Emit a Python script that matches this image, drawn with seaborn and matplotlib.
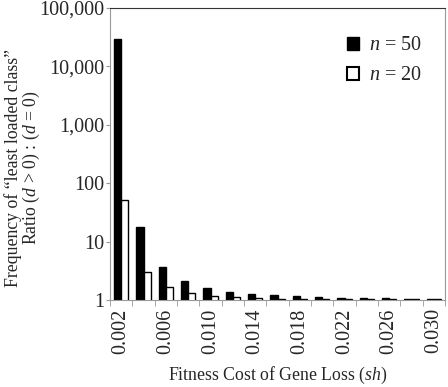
import numpy as np
import pandas as pd
import seaborn as sns
import matplotlib.pyplot as plt
from matplotlib.patches import Patch

# fitness cost categories (sh)
costs = ['0.002', '0.004', '0.006', '0.008', '0.010', '0.012', '0.014', '0.016',
         '0.018', '0.020', '0.022', '0.024', '0.026', '0.028', '0.030']
ratio_n50 = [29000, 18, 3.7, 2.1, 1.6, 1.37, 1.27, 1.2, 1.15, 1.12, 1.1, 1.08, 1.07, 1.06, 1.05]
ratio_n20 = [52, 3.0, 1.65, 1.32, 1.17, 1.12, 1.08, 1.06, 1.05, 1.04, 1.03, 1.03, 1.02, 1.02, 1.02]

df = pd.DataFrame({
    'cost': costs * 2,
    'ratio': ratio_n50 + ratio_n20,
    'n': ['n50'] * len(costs) + ['n20'] * len(costs),
})

sns.set_style('white')
plt.rcParams['font.family'] = ['Liberation Serif', 'DejaVu Serif']
plt.rcParams['mathtext.fontset'] = 'custom'
plt.rcParams['mathtext.it'] = 'Liberation Serif:italic'
plt.rcParams['mathtext.rm'] = 'Liberation Serif'

fig = plt.figure(figsize=(4.48, 3.87), dpi=100)
ax = fig.add_axes([110 / 448, 1 - 300 / 387, 335 / 448, 292 / 387])

sns.barplot(data=df, x='cost', y='ratio', hue='n', order=costs,
            hue_order=['n50', 'n20'], palette={'n50': 'black', 'n20': 'white'},
            edgecolor='black', linewidth=1.0, width=0.63, legend=False, ax=ax)
ax.set_yscale('log')

ax.set_ylim(1, 100000)
ax.set_xlim(-0.5, len(costs) - 0.5)
ax.set_yticks([1, 10, 100, 1000, 10000, 100000])
ax.set_yticklabels(['1', '10', '100', '1,000', '10,000', '100,000'])
ax.yaxis.set_minor_locator(plt.NullLocator())
ax.set_xticks(range(0, len(costs), 2))
ax.set_xticklabels(costs[::2], rotation=90)
ax.set_xticks(np.arange(-0.5, len(costs), 1), minor=True)
ax.tick_params(axis='x', which='major', length=0, pad=6, labelsize=14.5)
ax.tick_params(axis='x', which='minor', length=4, color='#999999', direction='out', bottom=True)
ax.tick_params(axis='y', which='major', length=3, color='#999999', direction='out', left=True,
               labelsize=14.5, pad=1)

for side in ['left', 'bottom', 'right']:
    ax.spines[side].set_color('#999999')
    ax.spines[side].set_visible(True)
ax.spines['top'].set_color('#333333')
ax.spines['top'].set_visible(True)

ax.set_xlabel('Fitness Cost of Gene Loss ($sh$)', fontsize=12.8, labelpad=8)
ax.set_ylabel('')
fig.text(23 / 448, 1 - 168 / 387,
         'Frequency of \u201cleast loaded class\u201d\nRatio ($d$ > 0) : ($d$ = 0)',
         rotation=90, ha='center', va='center', fontsize=12.8, linespacing=0.95)

handles = [Patch(facecolor='black', edgecolor='black', label='$n$ = 50'),
           Patch(facecolor='white', edgecolor='black', linewidth=1.5, label='$n$ = 20')]
ax.legend(handles=handles, loc='upper right', bbox_to_anchor=(0.985, 0.965), frameon=False,
          fontsize=14.5, handlelength=0.6, handleheight=0.6, handletextpad=0.5, labelspacing=0.55)

fig.savefig('out.png', dpi=100)
